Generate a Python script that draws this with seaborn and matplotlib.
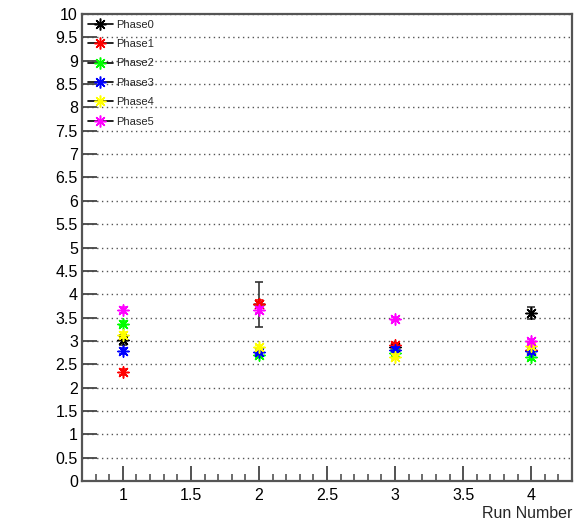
import numpy as np
import pandas as pd
import matplotlib
matplotlib.use("Agg")
import matplotlib.pyplot as plt
from matplotlib.lines import Line2D
from matplotlib.ticker import MultipleLocator, FormatStrFormatter
import seaborn as sns

runs = [1, 2, 3, 4]
phases = ["Phase0", "Phase1", "Phase2", "Phase3", "Phase4", "Phase5"]
phase0 = [3.02, 3.78, 2.88, 3.59]
phase1 = [2.34, 3.79, 2.91, 2.81]
phase2 = [3.37, 2.70, 2.74, 2.66]
phase3 = [2.79, 2.76, 2.81, 2.78]
phase4 = [3.12, 2.87, 2.66, 2.89]
phase5 = [3.66, 3.66, 3.47, 3.00]
err0 = [0.10, 0.48, 0.08, 0.13]
err1 = [0.06, 0.08, 0.05, 0.05]
err2 = [0.06, 0.05, 0.05, 0.06]
err3 = [0.06, 0.05, 0.05, 0.05]
err4 = [0.06, 0.05, 0.05, 0.05]
err5 = [0.07, 0.07, 0.05, 0.05]
colors = ["#000000", "#ff0000", "#00ff00", "#0000ff", "#ffff00", "#ff00ff"]

vals = [phase0, phase1, phase2, phase3, phase4, phase5]
errs = [err0, err1, err2, err3, err4, err5]
rows = []
for p, v, e in zip(phases, vals, errs):
    for r, y, ee in zip(runs, v, e):
        rows.append({"run": r, "value": y, "err": ee, "phase": p})
df = pd.DataFrame(rows)

sns.set_style("white")
plt.rcParams["font.family"] = ["Liberation Sans", "DejaVu Sans"]

fig = plt.figure(figsize=(5.74, 5.24), dpi=100)
ax = fig.add_axes([82 / 574, 1 - 481 / 524, 490 / 574, 467 / 524])

star = (8, 2, 0)
for i, p in enumerate(phases):
    sub = df[df["phase"] == p]
    ax.errorbar(sub["run"], sub["value"], yerr=sub["err"], fmt="none",
                ecolor="#333333" if i == 0 else colors[i], elinewidth=1.2,
                capsize=2.6, capthick=1.2, zorder=2 + i)
    sns.scatterplot(data=sub, x="run", y="value", color=colors[i], marker=star,
                    s=65, linewidth=1.1, edgecolor=colors[i], ax=ax,
                    legend=False, zorder=3 + i)

ax.set_xlim(0.7, 4.3)
ax.set_ylim(0, 10)
ax.xaxis.set_major_locator(MultipleLocator(0.5))
ax.xaxis.set_minor_locator(MultipleLocator(0.1))
ax.xaxis.set_major_formatter(FormatStrFormatter("%g"))
ax.yaxis.set_major_locator(MultipleLocator(0.5))
ax.yaxis.set_major_formatter(FormatStrFormatter("%g"))

ax.grid(axis="y", which="major", linestyle=(0, (1, 2.5)), color="#555555", linewidth=1.0)
ax.set_axisbelow(True)

ax.tick_params(axis="both", which="both", bottom=True, left=True, top=False, right=False)
ax.tick_params(axis="both", which="major", direction="in", length=11, width=1.3,
               colors="#444444", labelcolor="black", labelsize=11.5)
ax.tick_params(axis="x", which="minor", direction="in", length=5, width=1.1, colors="#444444")
ax.tick_params(axis="x", which="major", pad=5)
ax.tick_params(axis="y", which="major", pad=3)
for s in ax.spines.values():
    s.set_color("#555555")
    s.set_linewidth(1.6)

ax.set_xlabel("")
ax.set_ylabel("")
fig.text(572 / 574, 1 - 514 / 524, "Run Number", ha="right", va="center", fontsize=11.5)

handles = [Line2D([0], [0], color="black", linewidth=1.2, marker=star, markersize=8.5,
                  markeredgecolor=c, markerfacecolor=c, markeredgewidth=1.1) for c in colors]
leg = ax.legend(handles, phases, loc="upper left", bbox_to_anchor=(0.0, 1.0),
                frameon=False, fontsize=8, handlelength=2.3, handletextpad=0.3,
                labelspacing=0.85, borderaxespad=0.3, borderpad=0.2)

fig.savefig("out.png", dpi=100)
